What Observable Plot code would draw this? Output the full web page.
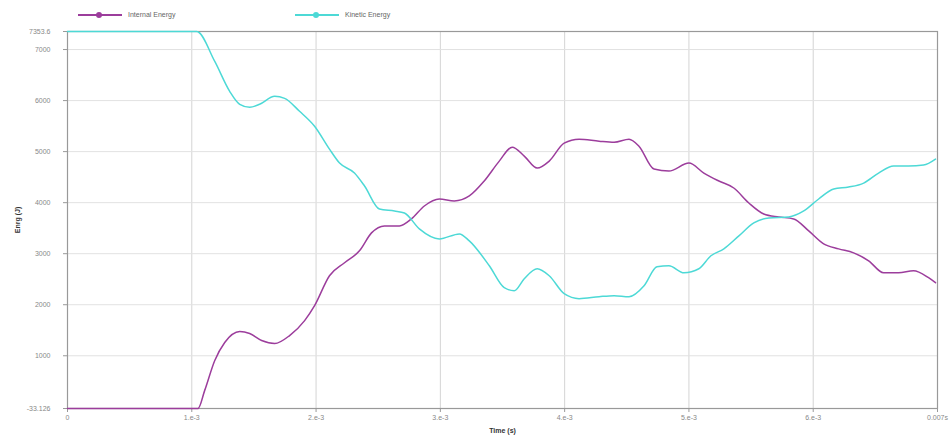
<!DOCTYPE html>
<html>
<head>
<meta charset="utf-8">
<script src="https://cdn.jsdelivr.net/npm/d3@7"></script>
<script src="https://cdn.jsdelivr.net/npm/@observablehq/plot@0.6"></script>
<style>
  html, body { margin: 0; padding: 0; background: #fff; }
  #wrap { position: relative; width: 952px; height: 437px; font-family: "Liberation Sans", Arial, sans-serif; }
  #legend { position: absolute; left: 0; top: 8px; width: 952px; height: 16px; font-size: 7px; color: #666; }
  .item { position: absolute; display: flex; align-items: center; }
  .swatch { position: relative; width: 44px; height: 2px; margin-right: 6px; }
  .swatch i { position: absolute; left: 18px; top: -2px; width: 6px; height: 6px; border-radius: 50%; }
</style>
</head>
<body>
<div id="wrap">
  <div id="legend"></div>
  <div id="chart"></div>
</div>
<script>
// Series names and colours
const seriesNames = ["Internal Energy", "Kinetic Energy"];
const seriesColors = ["#9c3d9c", "#4dd9d6"];

// Time (s) samples for each series
const internalTime = [0, 0.00105, 0.001104, 0.001185, 0.001265, 0.001386, 0.001466, 0.001562, 0.001667, 0.001787, 0.001908, 0.001988, 0.002108, 0.002229, 0.002349, 0.002446, 0.00255, 0.002671, 0.002767, 0.002871, 0.002992, 0.003112, 0.003233, 0.003353, 0.003474, 0.003578, 0.003675, 0.003779, 0.003876, 0.003996, 0.004116, 0.004277, 0.004398, 0.004518, 0.004598, 0.004719, 0.004839, 0.005, 0.00512, 0.005241, 0.005361, 0.005482, 0.005602, 0.005723, 0.005843, 0.005964, 0.006084, 0.006205, 0.006325, 0.006446, 0.006566, 0.006687, 0.006807, 0.006928, 0.006984];
const internalEnergy = [-33.126, -33.126, 322, 908, 1260, 1475, 1435, 1299, 1240, 1396, 1689, 1982, 2568, 2822, 3056, 3408, 3545, 3545, 3681, 3935, 4072, 4033, 4131, 4424, 4814, 5088, 4912, 4677, 4814, 5166, 5244, 5205, 5185, 5244, 5107, 4658, 4619, 4775, 4580, 4424, 4287, 3994, 3779, 3720, 3681, 3447, 3193, 3095, 3017, 2861, 2627, 2627, 2666, 2529, 2432];

const kineticTime = [0, 0.00104, 0.001185, 0.001305, 0.001386, 0.001466, 0.001546, 0.001667, 0.001747, 0.001867, 0.001988, 0.002108, 0.002189, 0.002309, 0.00239, 0.00251, 0.002631, 0.002711, 0.002831, 0.002992, 0.003153, 0.003233, 0.003394, 0.003514, 0.003594, 0.003675, 0.003779, 0.003876, 0.003996, 0.004116, 0.004277, 0.004398, 0.004518, 0.004639, 0.004743, 0.004839, 0.00496, 0.00508, 0.005177, 0.005281, 0.005402, 0.005522, 0.005643, 0.005803, 0.005924, 0.006044, 0.006165, 0.006285, 0.006406, 0.006526, 0.006647, 0.006767, 0.006888, 0.006984];
const kineticEnergy = [7353.6, 7353.6, 6767, 6181, 5927, 5869, 5927, 6083, 6044, 5790, 5497, 5048, 4775, 4580, 4326, 3876, 3837, 3798, 3486, 3290, 3388, 3251, 2763, 2334, 2275, 2510, 2705, 2568, 2217, 2119, 2158, 2178, 2158, 2373, 2744, 2763, 2627, 2705, 2959, 3095, 3349, 3603, 3701, 3720, 3837, 4072, 4267, 4306, 4384, 4580, 4716, 4716, 4736, 4853];

// Axis ticks and their labels
const xTicks = [0, 0.001, 0.002, 0.003, 0.004, 0.005, 0.006, 0.007];
const xTickLabels = ["0", "1.e-3", "2.e-3", "3.e-3", "4.e-3", "5.e-3", "6.e-3", "0.007s"];
const yTicks = [-33.126, 1000, 2000, 3000, 4000, 5000, 6000, 7000, 7353.6];
const yTickLabels = ["-33.126", "1000", "2000", "3000", "4000", "5000", "6000", "7000", "7353.6"];

const data = [
  ...internalTime.map((t, i) => ({t, e: internalEnergy[i], s: seriesNames[0]})),
  ...kineticTime.map((t, i) => ({t, e: kineticEnergy[i], s: seriesNames[1]}))
];

const xLab = new Map(xTicks.map((v, i) => [v, xTickLabels[i]]));
const yLab = new Map(yTicks.map((v, i) => [v, yTickLabels[i]]));

const chart = Plot.plot({
  width: 952,
  height: 437,
  marginTop: 31,
  marginBottom: 29,
  marginLeft: 67,
  marginRight: 15,
  style: {fontFamily: "Liberation Sans, Arial, sans-serif", fontSize: "7px", color: "#777", background: "#fff"},
  x: {domain: [0, 0.007]},
  y: {domain: [-33.126, 7353.6]},
  color: {domain: seriesNames, range: seriesColors},
  marks: [
    Plot.gridX(xTicks, {stroke: "#d4d4d4", strokeOpacity: 1, strokeWidth: 1}),
    Plot.gridY(yTicks, {stroke: "#e2e2e2", strokeOpacity: 1, strokeWidth: 1}),
    Plot.frame({stroke: "#999", strokeWidth: 1.2}),
    Plot.axisX({ticks: xTicks, tickFormat: d => xLab.get(d), tickSize: 4, tickPadding: 3,
      label: "Time (s)", labelAnchor: "center", labelOffset: 24, labelArrow: "none", stroke: "#999", fill: "#888"}),
    Plot.axisY({ticks: yTicks, tickFormat: d => yLab.get(d), tickSize: 4, tickPadding: 13,
      label: "Enrg (J)", labelAnchor: "center", labelOffset: 52, labelArrow: "none", stroke: "#999", fill: "#888"}),
    Plot.line(data, {x: "t", y: "e", z: "s", stroke: "s", strokeWidth: 1.5, curve: "monotone-x"})
  ]
});

// style axis labels bold/dark like the reference
chart.querySelectorAll("[aria-label='x-axis label'] text, [aria-label='y-axis label'] text").forEach(t => {
  t.setAttribute("fill", "#333");
  t.setAttribute("font-weight", "bold");
});
document.getElementById("chart").appendChild(chart);

// Legend above the plot
const legend = document.getElementById("legend");
const legendLeft = [78, 295];
seriesNames.forEach((name, i) => {
  const item = document.createElement("div");
  item.className = "item";
  item.style.left = legendLeft[i] + "px";
  item.style.top = "3px";
  item.innerHTML = `<span class="swatch" style="background:${seriesColors[i]}"><i style="background:${seriesColors[i]}"></i></span><span>${name}</span>`;
  legend.appendChild(item);
});
</script>
</body>
</html>
